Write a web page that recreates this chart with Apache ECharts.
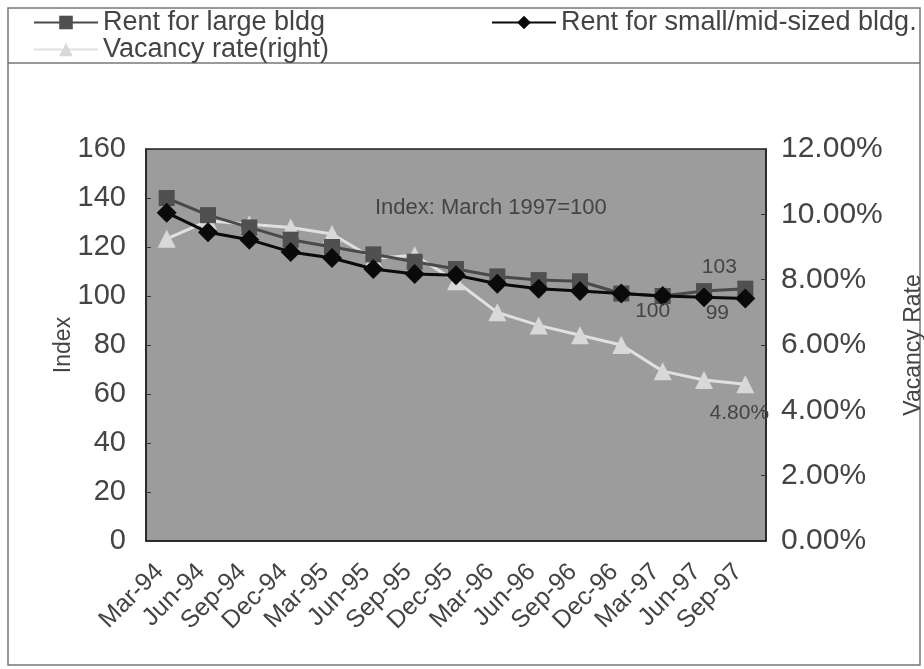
<!DOCTYPE html>
<html><head><meta charset="utf-8">
<script src="https://cdn.jsdelivr.net/npm/echarts@6/dist/echarts.min.js"></script>
<style>html,body{margin:0;padding:0;background:#fff}#c{width:924px;height:669px}</style>
</head><body><div id="c"></div>
<script>
const categories = ['Mar-94','Jun-94','Sep-94','Dec-94','Mar-95','Jun-95','Sep-95','Dec-95','Mar-96','Jun-96','Sep-96','Dec-96','Mar-97','Jun-97','Sep-97'];
const rentLarge = [140, 133, 128, 123, 120, 117, 114, 111, 108, 106.5, 106, 101, 100, 102, 103];
const rentSmall = [134, 126, 123, 118, 115.5, 111, 109, 108.5, 105, 103, 102, 101, 100, 99.5, 99];
const vacancy = [9.25, 9.8, 9.7, 9.6, 9.4, 8.65, 8.75, 7.95, 7.0, 6.6, 6.3, 6.0, 5.2, 4.93, 4.8];
const leftTicks = {min: 0, max: 160, interval: 20};
const rightTicks = {min: 0, max: 12, interval: 2};

const FONT = "'Liberation Sans',Arial,sans-serif";
const TXT = '#444';
const last = categories.length - 1;
const marIdx = categories.indexOf('Mar-97');

const largeData = rentLarge.map((v, i) => i === last ? {value: v, label: {show: true, position: 'top', offset: [-26, 2]}} : v);
const smallData = rentSmall.map((v, i) => (i === last) ? {value: v, label: {show: true, position: 'bottom', offset: [-28, -11]}} :
  (i === marIdx ? {value: v, label: {show: true, position: 'bottom', offset: [-10, -10]}} : v));
const vacData = vacancy.map((v, i) => i === last ? {value: v, label: {show: true, position: 'bottom', offset: [-6, 5], formatter: p => p.value.toFixed(2) + '%'}} : v);

const chart = echarts.init(document.getElementById('c'), null, {renderer: 'canvas'});
const labelStyle = {fontFamily: FONT, fontSize: 21, color: TXT};
const legendText = {fontSize: 27, fontFamily: FONT, color: TXT};
chart.setOption({
  animation: false,
  backgroundColor: '#fff',
  textStyle: {fontFamily: FONT},
  graphic: [
    {type: 'rect', shape: {x: 8, y: 8, width: 912, height: 657}, style: {fill: 'none', stroke: '#777', lineWidth: 1.5}, silent: true, z: -1},
    {type: 'line', shape: {x1: 8, y1: 63, x2: 920, y2: 63}, style: {stroke: '#777', lineWidth: 1.5}, silent: true},
    {type: 'text', left: 375, top: 197, style: {text: 'Index: March 1997=100', font: "22px " + FONT, fill: TXT}, z: 10}
  ],
  legend: [
    {data: ['Rent for large bldg'], left: 28, top: 4, itemWidth: 64, itemHeight: 17, textStyle: legendText},
    {data: ['Rent for small/mid-sized bldg.'], left: 486, top: 4, itemWidth: 64, itemHeight: 17, textStyle: legendText},
    {data: ['Vacancy rate(right)'], left: 28, top: 31, itemWidth: 64, itemHeight: 17, textStyle: legendText}
  ],
  grid: {left: 146, right: 158, top: 149, bottom: 128, containLabel: false, outerBoundsMode: 'none',
         show: true, backgroundColor: '#9c9c9c', borderColor: '#222', borderWidth: 1.5},
  xAxis: {
    type: 'category', data: categories, boundaryGap: true,
    axisLine: {lineStyle: {color: '#222', width: 1.5}},
    axisTick: {inside: true, length: 5, lineStyle: {color: '#333'}},
    axisLabel: {rotate: 45, fontSize: 25, fontFamily: FONT, color: TXT, margin: 20, interval: 0, padding: [0, 10, 0, 0]},
    splitLine: {show: false}
  },
  yAxis: [
    {type: 'value', ...leftTicks, name: 'Index', nameLocation: 'middle', nameGap: 71, nameRotate: 90, nameMoveOverlap: false,
     nameTextStyle: {fontSize: 23, fontFamily: FONT, color: TXT},
     axisLine: {show: true, lineStyle: {color: '#222', width: 1.5}},
     axisTick: {show: true, inside: true, length: 5, lineStyle: {color: '#333'}},
     axisLabel: {fontSize: 29, fontFamily: FONT, color: TXT, margin: 20},
     splitLine: {show: false}},
    {type: 'value', ...rightTicks, position: 'right', name: 'Vacancy Rate', nameLocation: 'middle', nameGap: 136, nameRotate: 90, nameMoveOverlap: false,
     nameTextStyle: {fontSize: 23, fontFamily: FONT, color: TXT},
     axisLine: {show: true, lineStyle: {color: '#222', width: 1.5}},
     axisTick: {show: true, inside: true, length: 5, lineStyle: {color: '#333'}},
     axisLabel: {fontSize: 30, fontFamily: FONT, color: TXT, margin: 15, formatter: v => v.toFixed(2) + '%'},
     splitLine: {show: false}}
  ],
  series: [
    {name: 'Rent for large bldg', type: 'line', yAxisIndex: 0, data: largeData,
     symbol: 'rect', symbolSize: 16, lineStyle: {color: '#4a4a4a', width: 3}, itemStyle: {color: '#505050'},
     label: {...labelStyle}, z: 3},
    {name: 'Rent for small/mid-sized bldg.', type: 'line', yAxisIndex: 0, data: smallData,
     symbol: 'diamond', symbolSize: 20, lineStyle: {color: '#0a0a0a', width: 3}, itemStyle: {color: '#0a0a0a'},
     label: {...labelStyle}, z: 4},
    {name: 'Vacancy rate(right)', type: 'line', yAxisIndex: 1, data: vacData,
     symbol: 'triangle', symbolSize: 18, lineStyle: {color: '#e0e0e0', width: 3}, itemStyle: {color: '#d8d8d8'},
     label: {...labelStyle}, z: 2}
  ]
});
</script></body></html>
